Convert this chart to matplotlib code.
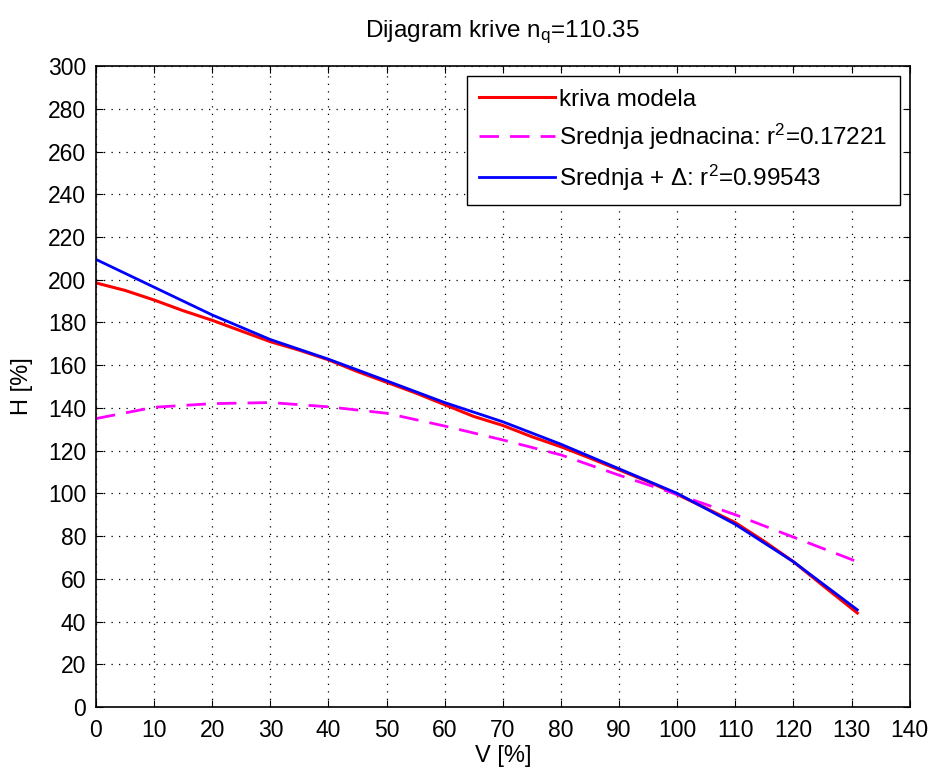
import numpy as np
import matplotlib
matplotlib.use('Agg')
import matplotlib.pyplot as plt

plt.rcParams['font.family'] = ['Liberation Sans', 'DejaVu Sans']
plt.rcParams['mathtext.fontset'] = 'custom'
plt.rcParams['mathtext.rm'] = 'Liberation Sans'
plt.rcParams['mathtext.it'] = 'Liberation Sans'

# kriva modela
v_model = [0, 5, 10, 15, 20, 25, 30, 35, 40, 45, 50, 55, 60, 65, 70, 75,
           80, 85, 90, 95, 100, 105, 110, 115, 120, 125, 131]
h_model = [198.5, 195, 190.5, 185.5, 181, 176, 171, 167, 162.5, 157, 152, 147,
           141.5, 136, 131.8, 126.5, 121.8, 116.5, 111, 105.5, 99.5, 93, 86.3,
           77.5, 68, 57, 44]

# srednja jednacina
v_mean = [0, 10, 20, 30, 40, 50, 60, 70, 80, 90, 100, 110, 120, 131]
h_mean = [135, 140.3, 142, 142.5, 140.5, 137.5, 131.5, 125, 118, 108.5,
          99.5, 90, 79.5, 68]

# srednja + delta
v_delta = [0, 10, 20, 30, 40, 50, 60, 70, 80, 90, 100, 110, 120, 131]
h_delta = [209.5, 196.5, 183.5, 172, 162.8, 152.7, 142.5, 133.5, 123, 111.5,
           100, 85.5, 68, 45.5]

xticks = np.arange(0, 141, 10)
yticks = np.arange(0, 301, 20)

fs = 16.5

fig = plt.figure(figsize=(9.32, 7.74), dpi=100)
ax = fig.add_axes([0.103, 0.0866, 0.873, 0.828])

ax.plot(v_model, h_model, color='red', lw=2.2, label='kriva modela')
ax.plot(v_mean, h_mean, color='magenta', lw=2, ls=(0, (7, 4)),
        label='Srednja jednacina: r$^2$=0.17221')
ax.plot(v_delta, h_delta, color='blue', lw=2, label='Srednja + Δ: r$^2$=0.99543')

ax.set_xlim(0, 140)
ax.set_ylim(0, 300)
ax.set_xticks(xticks)
ax.set_yticks(yticks)
ax.tick_params(direction='in', top=True, right=True, length=5, labelsize=fs)
ax.tick_params(axis='x', pad=9)
ax.tick_params(axis='y', pad=7)
ax.grid(True, color='black', ls=(0, (1, 5)), lw=0.9)
for s in ax.spines.values():
    s.set_linewidth(1.2)

ax.set_xlabel('V [%]', fontsize=17, labelpad=2)
ax.set_ylabel('H [%]', fontsize=17, labelpad=11)
ax.set_title('Dijagram krive n$_\\mathregular{q}$=110.35', fontsize=17.5, pad=21)

leg = ax.legend(loc='upper right', fontsize=17.5, fancybox=False, framealpha=1,
                edgecolor='black', handlelength=3.1, handletextpad=0.2,
                borderpad=0.5, labelspacing=0.45, borderaxespad=0,
                bbox_to_anchor=(0.988, 0.984))
leg.get_frame().set_linewidth(1.0)

fig.savefig('out.png', dpi=100)
